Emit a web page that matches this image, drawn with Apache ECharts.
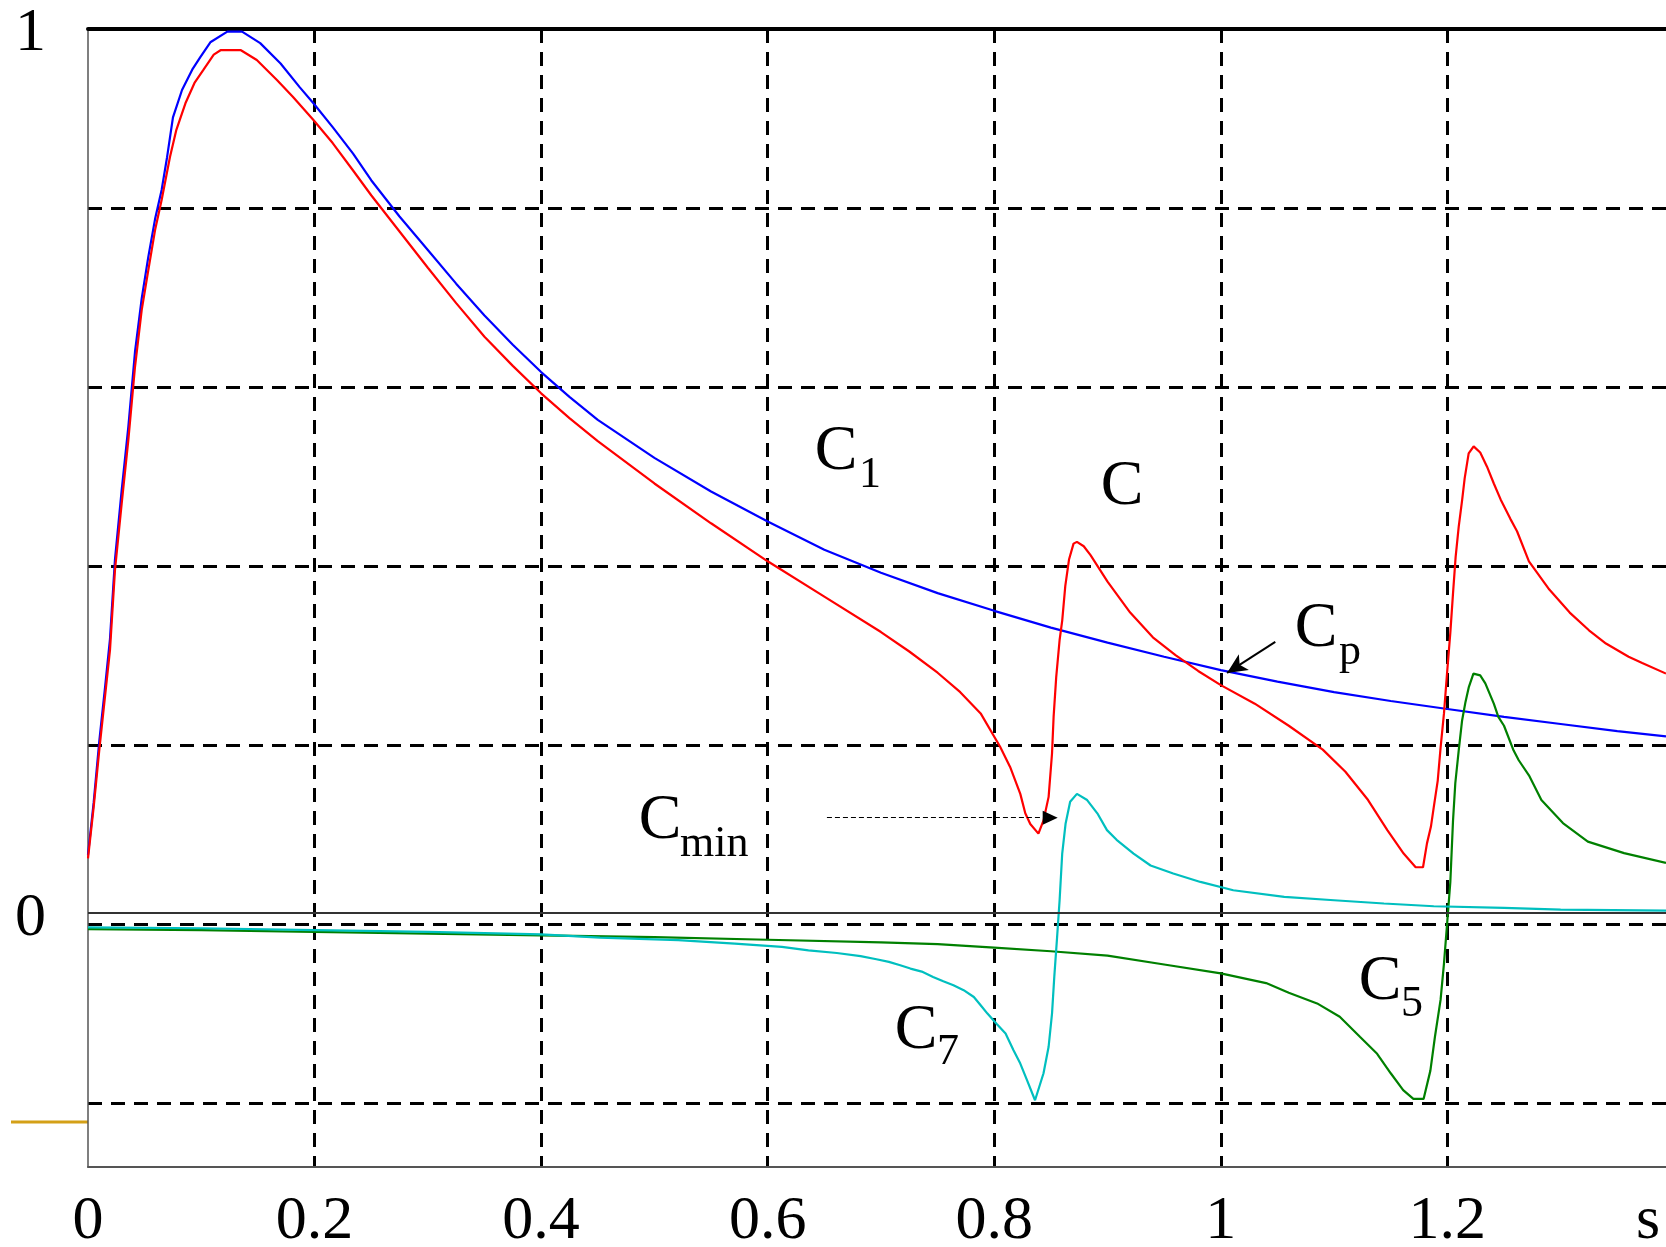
<!DOCTYPE html>
<html>
<head>
<meta charset="utf-8">
<script src="https://cdn.jsdelivr.net/npm/echarts@6/dist/echarts.min.js"></script>
<style>
  html, body { margin: 0; padding: 0; background: #fff; }
  #chart { width: 1666px; height: 1247px; }
</style>
</head>
<body>
<div id="chart"></div>
<script>
  // values, time in s
  var blueT = [0, 0.005, 0.01, 0.015, 0.0194, 0.0238, 0.0297, 0.0356, 0.0415, 0.0474, 0.0532, 0.0592, 0.065, 0.0698, 0.075,
    0.083, 0.092, 0.099, 0.108, 0.123, 0.136, 0.152, 0.170, 0.187, 0.199, 0.216, 0.234, 0.25, 0.275, 0.30, 0.325,
    0.35, 0.375, 0.40, 0.425, 0.45, 0.50, 0.55, 0.60, 0.65, 0.70, 0.75, 0.80, 0.85, 0.90, 0.95, 1.0, 1.05, 1.10,
    1.15, 1.20, 1.25, 1.30, 1.35, 1.393];
  var blueY = [0.066, 0.125, 0.195, 0.255, 0.31, 0.40, 0.478, 0.55, 0.635, 0.695, 0.742, 0.785, 0.818, 0.855, 0.90,
    0.931, 0.954, 0.968, 0.985, 0.997, 0.997, 0.984, 0.961, 0.934, 0.916, 0.889, 0.859, 0.829, 0.788, 0.750, 0.712,
    0.676, 0.643, 0.612, 0.584, 0.558, 0.515, 0.477, 0.443, 0.411, 0.385, 0.362, 0.342, 0.323, 0.306, 0.290, 0.275,
    0.262, 0.250, 0.240, 0.231, 0.222, 0.214, 0.206, 0.200];

  var redT = [0, 0.005, 0.01, 0.015, 0.0194, 0.0238, 0.0297, 0.0356, 0.0415, 0.0474, 0.0532, 0.0592, 0.065, 0.0724,
    0.078, 0.086, 0.094, 0.102, 0.111, 0.117, 0.135, 0.149, 0.167, 0.181, 0.199, 0.216, 0.234, 0.25, 0.275, 0.30,
    0.325, 0.35, 0.375, 0.40, 0.425, 0.45, 0.50, 0.55, 0.60, 0.65, 0.70, 0.725, 0.75, 0.77, 0.788, 0.8053, 0.814,
    0.823, 0.8274, 0.8318, 0.839, 0.8435, 0.848, 0.851, 0.8524, 0.8547, 0.8577, 0.86, 0.8627, 0.866, 0.870, 0.873,
    0.879, 0.885, 0.90, 0.92, 0.94, 0.96, 0.98, 1.0, 1.03, 1.06, 1.09, 1.11, 1.13, 1.147, 1.1614, 1.172, 1.1785,
    1.182, 1.1855, 1.188, 1.1915, 1.194, 1.197, 1.1997, 1.2026, 1.205, 1.2073, 1.21, 1.213, 1.2153, 1.2188, 1.2232,
    1.229, 1.235, 1.241, 1.247, 1.2556, 1.2615, 1.272, 1.29, 1.308, 1.325, 1.340, 1.36, 1.372, 1.393];
  var redY = [0.062, 0.12, 0.185, 0.245, 0.2975, 0.388, 0.463, 0.535, 0.618, 0.682, 0.727, 0.7726, 0.8066, 0.8555,
    0.886, 0.916, 0.939, 0.954, 0.971, 0.976, 0.976, 0.965, 0.942, 0.923, 0.897, 0.871, 0.840, 0.812, 0.771, 0.730,
    0.690, 0.652, 0.619, 0.588, 0.560, 0.534, 0.486, 0.441, 0.398, 0.358, 0.318, 0.296, 0.272, 0.250, 0.226, 0.188,
    0.1655, 0.135, 0.113, 0.101, 0.090, 0.105, 0.1316, 0.1806, 0.222, 0.267, 0.309, 0.331, 0.37, 0.40, 0.418, 0.42,
    0.415, 0.405, 0.375, 0.34, 0.312, 0.292, 0.274, 0.258, 0.237, 0.212, 0.185, 0.16, 0.128, 0.094, 0.0675, 0.052,
    0.052, 0.079, 0.098, 0.120, 0.150, 0.187, 0.226, 0.271, 0.317, 0.362, 0.403, 0.437, 0.467, 0.492, 0.520, 0.528,
    0.521, 0.505, 0.486, 0.468, 0.446, 0.432, 0.398, 0.366, 0.340, 0.320, 0.305, 0.29, 0.283, 0.271];

  var greenT = [0, 0.1, 0.2, 0.3, 0.4, 0.5, 0.6, 0.7, 0.75, 0.8, 0.85, 0.9, 0.95, 1.0, 1.04, 1.06, 1.085, 1.105,
    1.123, 1.138, 1.15, 1.161, 1.17, 1.179, 1.185, 1.189, 1.194, 1.197, 1.2, 1.2026, 1.205, 1.207, 1.21, 1.213,
    1.216, 1.219, 1.223, 1.229, 1.2335, 1.241, 1.245, 1.25, 1.2585, 1.263, 1.272, 1.283, 1.302, 1.324, 1.356, 1.393];
  var greenY = [-0.018, -0.019, -0.021, -0.023, -0.025, -0.027, -0.030, -0.033, -0.035, -0.039, -0.043, -0.048,
    -0.058, -0.068, -0.079, -0.090, -0.102, -0.117, -0.14, -0.159, -0.181, -0.200, -0.21, -0.21, -0.178, -0.14,
    -0.098, -0.057, -0.008, 0.035, 0.105, 0.147, 0.184, 0.218, 0.239, 0.256, 0.271, 0.269, 0.26, 0.237, 0.222,
    0.212, 0.184, 0.173, 0.156, 0.128, 0.102, 0.081, 0.068, 0.057];

  var cyanT = [0, 0.1, 0.2, 0.3, 0.4, 0.452, 0.521, 0.571, 0.6125, 0.636, 0.661, 0.682, 0.696, 0.707, 0.717, 0.726,
    0.736, 0.746, 0.755, 0.764, 0.773, 0.782, 0.788, 0.794, 0.802, 0.81, 0.817, 0.823, 0.829, 0.836, 0.8435, 0.848,
    0.851, 0.853, 0.8553, 0.8577, 0.86, 0.863, 0.867, 0.873, 0.882, 0.891, 0.8995, 0.908, 0.923, 0.938, 0.958,
    0.982, 1.011, 1.056, 1.1, 1.144, 1.188, 1.25, 1.3, 1.393];
  var cyanY = [-0.016, -0.017, -0.019, -0.021, -0.024, -0.0275, -0.0305, -0.0343, -0.038, -0.042, -0.045, -0.0486,
    -0.052, -0.055, -0.0588, -0.0626, -0.066, -0.072, -0.077, -0.0815, -0.087, -0.0947, -0.104, -0.1135, -0.125,
    -0.136, -0.155, -0.170, -0.189, -0.2115, -0.181, -0.151, -0.1135, -0.072, -0.0305, 0.0147, 0.0675, 0.1015,
    0.126, 0.135, 0.128, 0.113, 0.094, 0.083, 0.0675, 0.054, 0.045, 0.0354, 0.026, 0.0184, 0.0147, 0.011, 0.0079,
    0.006, 0.004, 0.003];

  var xTicks = [0, 0.2, 0.4, 0.6, 0.8, 1, 1.2];
  var yTicks = [0, 1];

  var SERIF = "'Liberation Serif', 'Times New Roman', serif";
  var DASH = { color: '#000', width: 3, type: [14, 9] };

  function pairs(t, y) {
    return t.map(function (v, i) { return [v, y[i]]; });
  }

  function line(name, t, y, color, extra) {
    var s = {
      name: name,
      type: 'line',
      data: pairs(t, y),
      showSymbol: false,
      symbol: 'none',
      silent: true,
      lineStyle: { color: color, width: 2.2 },
      z: 3
    };
    return Object.assign(s, extra || {});
  }

  var chart = echarts.init(document.getElementById('chart'));

  var option = {
    animation: false,
    backgroundColor: '#fff',
    grid: { left: 88, right: 0, top: 29, bottom: 80, containLabel: false, outerBoundsMode: 'none' },
    xAxis: [{
      type: 'value', position: 'bottom', min: 0, max: 1.393, interval: 0.2,
      axisLine: { show: true, onZero: false, lineStyle: { color: '#555', width: 2 } },
      axisTick: { show: false },
      axisLabel: {
        customValues: xTicks, margin: 24, fontSize: 62, color: '#000', fontFamily: SERIF,
        formatter: function (v) { return String(Math.round(v * 10) / 10); }
      },
      splitLine: { show: true, showMinLine: false, showMaxLine: false, lineStyle: DASH }
    }, {
      type: 'value', position: 'top', min: 0, max: 1.393,
      axisLine: { show: true, onZero: false, lineStyle: { color: '#000', width: 4 } },
      axisTick: { show: false }, axisLabel: { show: false }, splitLine: { show: false }
    }],
    yAxis: [{
      type: 'value', position: 'left', min: -0.287, max: 1,
      axisLine: { show: true, onZero: false, lineStyle: { color: '#555', width: 1.5 } },
      axisTick: { show: false },
      axisLabel: {
        customValues: yTicks, margin: 42, fontSize: 62, color: '#000', fontFamily: SERIF,
        verticalAlign: 'top', lineHeight: 10
      },
      splitLine: { show: false }
    }, {
      // the dashed grid rows are spaced from the top frame, not from zero
      type: 'value', position: 'right', inverse: true, min: 0, max: 6.358, interval: 1,
      axisLine: { show: false }, axisTick: { show: false }, axisLabel: { show: false },
      splitLine: { show: true, showMinLine: false, showMaxLine: false, lineStyle: DASH }
    }],
    series: [
      line('C1', blueT, blueY, '#0000ff', {
        markLine: {
          silent: true, symbol: ['none', 'arrow'], symbolSize: [14, 20],
          label: { show: false },
          lineStyle: { color: '#000', width: 2, type: 'solid' },
          data: [[{ coord: [1.0481, 0.3069] }, { coord: [1.0055, 0.2718] }]]
        }
      }),
      line('C', redT, redY, '#ff0000', {
        markLine: {
          silent: true, symbol: ['none', 'triangle'], symbolSize: [14, 15], symbolRotate: -90,
          label: { show: false },
          lineStyle: { color: '#000', width: 1.2, type: [5, 3] },
          data: [[{ coord: [0.6523, 0.108] }, { coord: [0.8494, 0.108] }]]
        }
      }),
      line('C5', greenT, greenY, '#008000'),
      line('C7', cyanT, cyanY, '#00bfbf', {
        markLine: {
          silent: true, symbol: 'none', label: { show: false },
          lineStyle: { color: '#333', width: 2, type: 'solid' },
          data: [{ yAxis: 0 }]
        }
      })
    ],
    graphic: [
      { type: 'line', shape: { x1: 11, y1: 1122, x2: 88, y2: 1122 }, style: { stroke: '#d4a017', lineWidth: 3 } },
      { type: 'text', x: 1648, y: 1191, style: { text: 's', font: '62px ' + SERIF, fill: '#000', align: 'center', verticalAlign: 'top' } },
      { type: 'text', x: 836, y: 452, style: { text: 'C', font: '64px ' + SERIF, fill: '#000', align: 'center', verticalAlign: 'middle' } },
      { type: 'text', x: 859, y: 475, style: { text: '1', font: '44px ' + SERIF, fill: '#000', align: 'left', verticalAlign: 'middle' } },
      { type: 'text', x: 1122, y: 487, style: { text: 'C', font: '64px ' + SERIF, fill: '#000', align: 'center', verticalAlign: 'middle' } },
      { type: 'text', x: 1316, y: 629, style: { text: 'C', font: '64px ' + SERIF, fill: '#000', align: 'center', verticalAlign: 'middle' } },
      { type: 'text', x: 1339, y: 652, style: { text: 'p', font: '44px ' + SERIF, fill: '#000', align: 'left', verticalAlign: 'middle' } },
      { type: 'text', x: 660, y: 821, style: { text: 'C', font: '64px ' + SERIF, fill: '#000', align: 'center', verticalAlign: 'middle' } },
      { type: 'text', x: 680, y: 844, style: { text: 'min', font: '44px ' + SERIF, fill: '#000', align: 'left', verticalAlign: 'middle' } },
      { type: 'text', x: 916, y: 1031, style: { text: 'C', font: '64px ' + SERIF, fill: '#000', align: 'center', verticalAlign: 'middle' } },
      { type: 'text', x: 937, y: 1052, style: { text: '7', font: '44px ' + SERIF, fill: '#000', align: 'left', verticalAlign: 'middle' } },
      { type: 'text', x: 1380, y: 982, style: { text: 'C', font: '64px ' + SERIF, fill: '#000', align: 'center', verticalAlign: 'middle' } },
      { type: 'text', x: 1401, y: 1004, style: { text: '5', font: '44px ' + SERIF, fill: '#000', align: 'left', verticalAlign: 'middle' } }
    ]
  };

  chart.setOption(option);
</script>
</body>
</html>
